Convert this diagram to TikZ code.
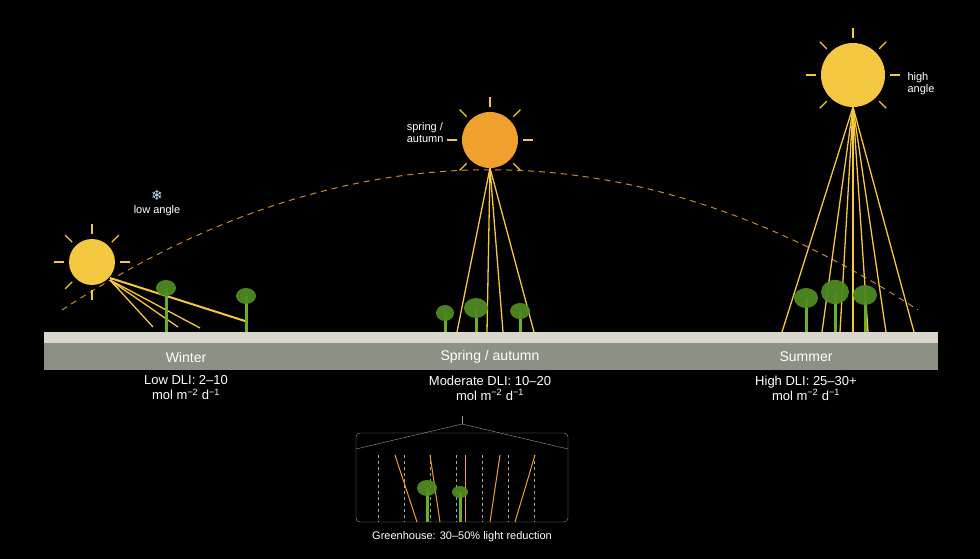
\documentclass[tikz,border=0pt]{standalone}
\usepackage{fontspec}
\setmainfont{Liberation Sans}
\newfontfamily\symfont{DejaVu Sans}
\definecolor{sunyel}{HTML}{F5C842}
\definecolor{sunorg}{HTML}{F0A02C}
\definecolor{leaf}{HTML}{4E8A22}
\definecolor{stem}{HTML}{6AAE2A}
\definecolor{soil}{HTML}{8B9185}
\definecolor{soiltop}{HTML}{D9D7CD}
\definecolor{path}{HTML}{C98A2E}
\tikzset{
  beam/.style={sunyel, line width=1.3pt},
  lbl/.style={white, font=\fontsize{13}{15}\selectfont, align=center},
  small/.style={white, font=\fontsize{11}{13}\selectfont, align=center}
}
\newcommand{\plant}[4]{% x, head y, rx, ry
  \draw[stem, line width=3pt] (#1,332) -- (#1,#2);
  \fill[leaf, opacity=.95] (#1,#2) ellipse ({#3} and {#4});
}
\newcommand{\sunrays}[3]{% x, y, r
  \foreach \a in {0,45,...,315}
    \draw[sunyel, line width=1.2pt] (#1,#2) ++(\a:#3+5) -- ++(\a:10);
}
\begin{document}
\begin{tikzpicture}[x=1pt,y=-1pt]
\fill[black] (0,0) rectangle (980,559);
\useasboundingbox (0,0) rectangle (980,559);

% sun path
\draw[path, dashed, line width=1pt, dash pattern=on 6pt off 5pt]
  (62,310) .. controls (347,123) and (633,123) .. (918,310);

% ground
\fill[soiltop] (44,332) rectangle (938,343);
\fill[soil] (44,343) rectangle (938,370);

% winter
\foreach \x/\y in {153/327,178/327,200/328}
  \draw[beam] (110,280) -- (\x,\y);
\draw[beam, line width=2pt] (110,278) -- (245,321);
\plant{166}{288}{10}{8}
\plant{246}{296}{10}{8}
\node[circle, fill=sunyel, minimum size=46pt, inner sep=0] (winter) at (92,262) {};
\sunrays{92}{262}{23}
\node[text=cyan!30!white, font=\symfont\fontsize{14}{14}\selectfont] (snow) at (157,195) {❄};
\node[small] (lowangle) at (157,211) {low angle};

% spring / autumn
\foreach \x in {457,487,503,534}
  \draw[beam] (490,168) -- (\x,332);
\plant{445}{313}{9}{8}
\plant{476}{308}{12}{10}
\plant{520}{311}{10}{8}
\node[circle, fill=sunorg, minimum size=56pt, inner sep=0] (spring) at (490,140) {};
\sunrays{490}{140}{28}
\node[small, align=left, anchor=east] (springlbl) at (447,133) {spring /\\[-1pt]autumn};

% summer
\foreach \x in {782,822,840,853,868,886,914}
  \draw[beam] (853,107) -- (\x,332);
\plant{806}{298}{12}{10}
\plant{835}{292}{14}{12}
\plant{865}{295}{12}{10}
\node[circle, fill=sunyel, minimum size=64pt, inner sep=0] (summer) at (853,75) {};
\sunrays{853}{75}{32}
\node[small, align=left, anchor=west] (highlbl) at (904,84) {high\\[-1pt]angle};

% season labels
\node[white, font=\fontsize{14}{16}\selectfont] (w) at (186,357) {Winter};
\node[white, font=\fontsize{14}{16}\selectfont] (s) at (490,357) {Spring / autumn};
\node[white, font=\fontsize{14}{16}\selectfont] (u) at (806,357) {Summer};
\node[lbl] (wd) at (186,388) {Low DLI: 2–10\\mol m\textsuperscript{−2} d\textsuperscript{−1}};
\node[lbl] (sd) at (490,388) {Moderate DLI: 10–20\\mol m\textsuperscript{−2} d\textsuperscript{−1}};
\node[lbl] (ud) at (806,388) {High DLI: 25–30+\\mol m\textsuperscript{−2} d\textsuperscript{−1}};

% greenhouse
\draw[gray!80, rounded corners=4pt] (356,433) rectangle (568,522);
\draw[gray!80] (356,449) -- (462,424) -- (568,449);
\draw[gray!80] (462,424) -- (462,416);
\foreach \x in {378,404,430,456,482,508,534}
  \draw[gray!70, dashed, line width=1pt] (\x,455) -- (\x,522);
\foreach \a/\b in {395/417,430/440,465/465,500/490,535/515}
  \draw[sunorg, line width=1pt] (\a,455) -- (\b,522);
\draw[stem, line width=3pt] (427,522) -- (427,488);
\fill[leaf!80!stem, opacity=.9] (427,488) ellipse (10 and 8);
\draw[stem, line width=3pt] (460,522) -- (460,492);
\fill[leaf!80!stem, opacity=.9] (460,492) ellipse (8 and 6);
\node[small] (gh) at (462,537) {Greenhouse: 30–50\% light reduction};
\end{tikzpicture}
\end{document}
